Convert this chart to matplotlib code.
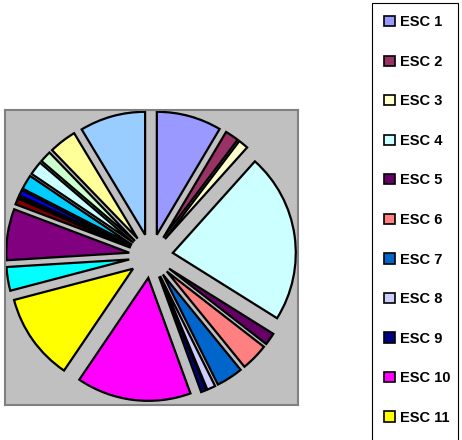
import matplotlib.pyplot as plt
from matplotlib.patches import Patch, Rectangle

# ================== data ==================
labels = ['ESC %d' % i for i in range(1, 22)]
# share of each slice (%), clockwise from 12 o'clock
values = [8.5, 1.8, 1.3, 22.2, 1.6, 3.6, 3.5, 1.1, 0.7, 15.0,
          11.4, 3.1, 6.7, 0.8, 0.3, 0.7, 1.9, 1.8, 1.5, 3.6, 8.6]
# Excel 97-2003 chart palette
colors = ['#9999FF', '#993366', '#FFFFCC', '#CCFFFF', '#660066', '#FF8080',
          '#0066CC', '#CCCCFF', '#000080', '#FF00FF', '#FFFF00', '#00FFFF',
          '#800080', '#800000', '#008080', '#0000FF', '#00CCFF', '#CCFFFF',
          '#CCFFCC', '#FFFF99', '#99CCFF']
N_SHOWN = 11   # legend is cut by the bottom edge after ESC 11

W, H = 462, 440
fig = plt.figure(figsize=(W / 100, H / 100), dpi=100)
fig.patch.set_facecolor('white')

# plot area (grey box), in pixels from the top left
px0, py0, px1, py1 = 5, 110, 298, 405
ax = fig.add_axes([px0 / W, 1 - py1 / H, (px1 - px0) / W, (py1 - py0) / H])

R = 123
cx, cy = 151 - px0, py1 - 256
explode = [22] * len(values)   # absolute offset (data units = pixels here)
wedges, _ = ax.pie(values, colors=colors, explode=explode, startangle=90,
                   counterclock=False, radius=R, center=(cx, cy), frame=True,
                   wedgeprops=dict(edgecolor='black', linewidth=1.6))

ax.set_xlim(0, px1 - px0)
ax.set_ylim(0, py1 - py0)
ax.set_xticks([]); ax.set_yticks([])
ax.set_facecolor('#C0C0C0')
for s in ax.spines.values():
    s.set_edgecolor('#808080'); s.set_linewidth(1.5)

# ================== legend ==================
handles = [Patch(facecolor=c, edgecolor='black', linewidth=1.2) for c in colors[:N_SHOWN]]
leg = fig.legend(handles, labels[:N_SHOWN], loc='upper left',
                 bbox_to_anchor=(372 / W, 1 - 3 / H), borderaxespad=0,
                 prop=dict(family='Liberation Sans', weight='bold', size=10.5),
                 handlelength=0.7, handleheight=0.7, handletextpad=0.4,
                 labelspacing=1.75, borderpad=0.85, frameon=False)
# legend frame runs past the bottom of the figure
fig.patches.append(Rectangle((372 / W, -0.05), (458 - 372) / W, 1 - 3 / H + 0.05,
                             transform=fig.transFigure, facecolor='none',
                             edgecolor='black', linewidth=0.8))

fig.savefig('out.png', dpi=100)
